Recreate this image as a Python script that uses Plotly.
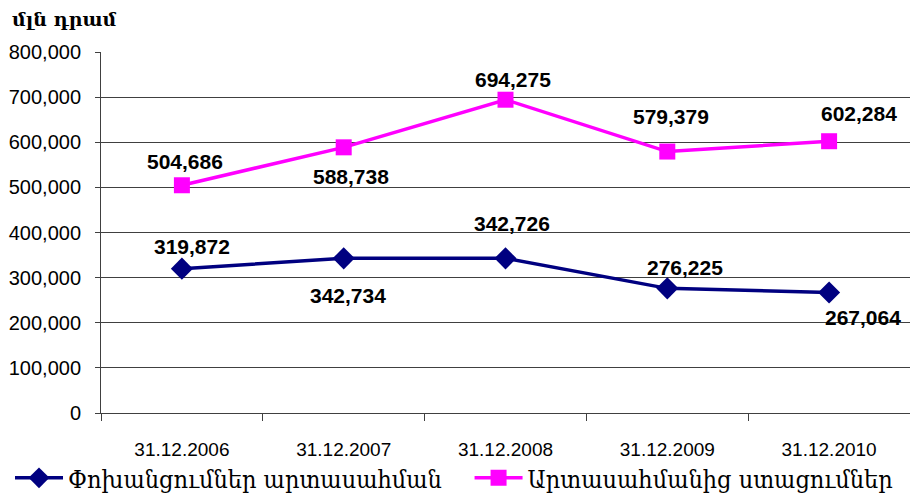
import plotly.graph_objects as go

# Data
dates = ['31.12.2006', '31.12.2007', '31.12.2008', '31.12.2009', '31.12.2010']
transfers_out = [319872, 342734, 342726, 276225, 267064]
transfers_in = [504686, 588738, 694275, 579379, 602284]
name_out = 'Փոխանցումներ արտասահման'
name_in = 'Արտասահմանից ստացումներ'
unit_title = 'մլն դրամ'

# label offsets in pixels (x, y) relative to each point
out_shift = [(10, 22), (4, -37), (6, 35), (18, 21), (34, -25)]
in_shift = [(3, 24), (7, -29), (7, 20), (4, 35), (30, 28)]

BLUE = '#000080'
PINK = '#FF00FF'

fig = go.Figure()

fig.add_trace(go.Scatter(
    x=dates, y=transfers_out, name=name_out,
    mode='lines+markers', legend='legend',
    line=dict(color=BLUE, width=3.5),
    marker=dict(symbol='diamond', size=17, color=BLUE)
))

fig.add_trace(go.Scatter(
    x=dates, y=transfers_in, name=name_in,
    mode='lines+markers', legend='legend2',
    line=dict(color=PINK, width=3.5),
    marker=dict(symbol='square', size=16, color=PINK)
))

label_font = dict(family='Liberation Sans, Arial', size=21, color='black')
for vals, shifts in ((transfers_out, out_shift), (transfers_in, in_shift)):
    for d, v, (sx, sy) in zip(dates, vals, shifts):
        fig.add_annotation(
            x=d, y=v, text='<b>{:,}</b>'.format(v),
            showarrow=False, xshift=sx, yshift=sy, font=label_font
        )

fig.add_annotation(
    text='<b>' + unit_title + '</b>', xref='paper', yref='paper',
    x=-0.113, y=1.055, xanchor='left', yanchor='bottom', showarrow=False,
    font=dict(family='DejaVu Serif', size=19, color='black')
)

legend_style = dict(
    orientation='h',
    xref='container', yref='container',
    xanchor='left', yanchor='middle', y=0.038,
    font=dict(family='DejaVu Serif Condensed, DejaVu Serif', size=25, color='black'),
    itemwidth=48,
    bgcolor='rgba(0,0,0,0)'
)

fig.update_layout(
    width=910,
    height=497,
    margin=dict(l=101, r=0, t=52, b=84),
    paper_bgcolor='white',
    plot_bgcolor='white',
    showlegend=True,
    legend=dict(legend_style, x=0.011),
    legend2=dict(legend_style, x=0.516),
    xaxis=dict(
        type='category',
        range=[-0.5, 4.5],
        automargin=False,
        showgrid=False,
        showline=True, linecolor='#404040', linewidth=1,
        ticks='outside', ticklen=7, tickcolor='#404040',
        tickson='boundaries',
        ticklabelstandoff=19,
        tickfont=dict(family='Liberation Sans, Arial', size=19, color='black')
    ),
    yaxis=dict(
        range=[0, 800000],
        dtick=100000,
        tickformat=',',
        automargin=False,
        showgrid=True, gridcolor='#404040', gridwidth=1,
        showline=True, linecolor='#404040', linewidth=1,
        ticks='outside', ticklen=5, tickcolor='#404040',
        zeroline=False,
        ticklabelstandoff=10,
        tickfont=dict(family='Liberation Sans, Arial', size=20, color='black')
    )
)

# drop the default body margin so the figure sits at the window's corner
fig.write_html('out.html', config={'displayModeBar': False},
               post_script="document.body.style.margin='0px';")
